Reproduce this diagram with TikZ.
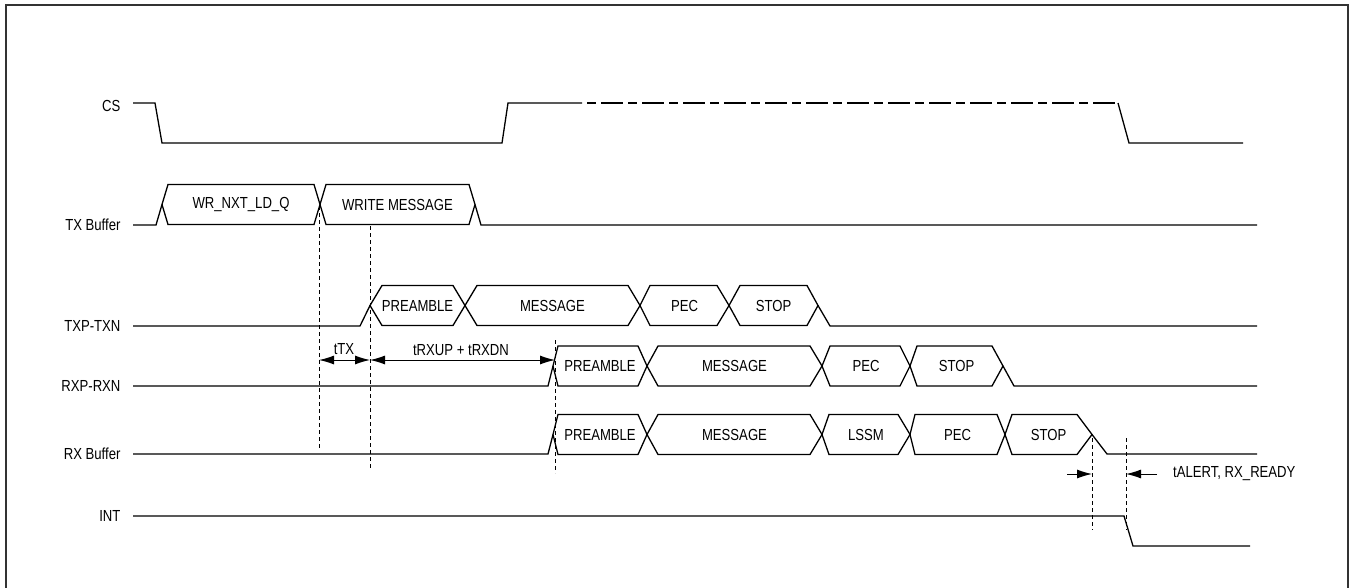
\documentclass[tikz,border=0pt]{standalone}
\usepackage{fontspec}
\setmainfont[FakeStretch=0.82]{Liberation Sans}
\usetikzlibrary{arrows.meta}
\tikzset{
  sig/.style={line width=1.3pt,black},
  guide/.style={line width=0.9pt,dash pattern=on 4pt off 3pt},
  dimline/.style={line width=1pt,{Latex[length=15pt,width=9pt]}-{Latex[length=15pt,width=9pt]}},
  tick/.style={line width=1pt,-{Latex[length=15pt,width=9pt]}},
  lbl/.style={anchor=east,font=\fontsize{16}{18}\selectfont},
  txt/.style={font=\fontsize{16}{18}\selectfont,inner sep=0pt}
}
% bus box: left crossing, right crossing, left slope, right slope, mid line, name, text
\newcommand{\busseg}[7]{
  \draw[sig] (#1,#5) -- ({#1+#3},{#5-20}) -- ({#2-#4},{#5-20}) -- (#2,#5)
     -- ({#2-#4},{#5+20}) -- ({#1+#3},{#5+20}) -- cycle;
  \node[txt] (#6) at ({(#1+#2)/2},#5) {#7};
}
\begin{document}
\begin{tikzpicture}[x=1pt,y=-1pt]
  \useasboundingbox (0,0) rectangle (1351,588);
  \draw[line width=2pt,black!80] (6,5) rectangle (1348,610);

  % signal names
  \node[lbl] (cs) at (124,106) {CS};
  \node[lbl] (txbuf) at (124,225) {TX Buffer};
  \node[lbl] (txp) at (124,326) {TXP-TXN};
  \node[lbl] (rxp) at (124,386) {RXP-RXN};
  \node[lbl] (rxbuf) at (124,454) {RX Buffer};
  \node[lbl] (int) at (124,516) {INT};

  % CS
  \draw[sig] (133,103) -- (155,103) -- (162,143) -- (502,143) -- (508,103) -- (582,103);
  \draw[sig,dash pattern=on 22pt off 5pt on 9pt off 5pt,dash phase=22pt] (582,103) -- (1118,103);
  \draw[sig] (1118,103) -- (1129,143) -- (1243,143);

  % TX Buffer
  \draw[sig] (133,225) -- (156,225) -- (162,204.5);
  \busseg{162}{320}{6}{6}{204.5}{wrq}{WR\_NXT\_LD\_Q}
  \busseg{320}{475}{6}{6}{204.5}{wrmsg}{WRITE MESSAGE}
  \draw[sig] (475,204.5) -- (481,225) -- (1257,225);

  % TXP-TXN
  \draw[sig] (133,326) -- (360,326) -- (370,305.5);
  \busseg{370}{465}{12}{12}{305.5}{txpre}{PREAMBLE}
  \busseg{465}{640}{12}{12}{305.5}{txmsg}{MESSAGE}
  \busseg{640}{729}{10}{12}{305.5}{txpec}{PEC}
  \busseg{729}{818}{11}{11}{305.5}{txstop}{STOP}
  \draw[sig] (818,305.5) -- (830,326) -- (1257,326);

  % RXP-RXN
  \draw[sig] (133,386) -- (548,386) -- (553,366);
  \busseg{553}{647}{5}{9}{366}{rxpre}{PREAMBLE}
  \busseg{647}{822}{11}{12}{366}{rxmsg}{MESSAGE}
  \busseg{822}{910}{8}{10}{366}{rxpec}{PEC}
  \busseg{910}{1003}{7}{11}{366}{rxstop}{STOP}
  \draw[sig] (1003,366) -- (1014,386) -- (1257,386);

  % RX Buffer
  \draw[sig] (133,454) -- (548,454) -- (553,434.5);
  \busseg{553}{647}{5}{9}{434.5}{bpre}{PREAMBLE}
  \busseg{647}{822}{11}{12}{434.5}{bmsg}{MESSAGE}
  \busseg{822}{910}{7}{12}{434.5}{blssm}{LSSM}
  \busseg{910}{1005}{5}{8}{434.5}{bpec}{PEC}
  \busseg{1005}{1092}{7}{15}{434.5}{bstop}{STOP}
  \draw[sig] (1092,434.5) -- (1107,454) -- (1257,454);

  % INT
  \draw[sig] (133,516) -- (1124,516) -- (1133,546) -- (1250,546);

  % timing guides
  \coordinate (gA) at (319,206);   \coordinate (gAe) at (319,450);
  \coordinate (gB) at (370,226);   \coordinate (gBe) at (370,470);
  \coordinate (gC) at (555,340);   \coordinate (gCe) at (555,473);
  \coordinate (gD) at (1092,438);  \coordinate (gDe) at (1092,530);
  \coordinate (gE) at (1126,438);  \coordinate (gEe) at (1126,530);
  \foreach \g in {A,B,C,D,E}
    \draw[guide] (g\g) -- (g\g e);

  \coordinate (tA) at (319,360);
  \coordinate (tB) at (370,360);
  \coordinate (tC) at (555,360);
  \draw[dimline] (tA) -- (tB);
  \draw[dimline] (tB) -- (tC);
  \node[txt] (ttx) at (344,349) {tTX};
  \node[txt] (trx) at (461,350) {tRXUP + tRXDN};

  \coordinate (aL) at (1067,474);  \coordinate (aLe) at (1092,474);
  \coordinate (aR) at (1157,474);  \coordinate (aRe) at (1126,474);
  \draw[tick] (aL) -- (aLe);
  \draw[tick] (aR) -- (aRe);
  \node[txt,anchor=west] (talert) at (1173,474) {tALERT, RX\_READY};
\end{tikzpicture}
\end{document}
